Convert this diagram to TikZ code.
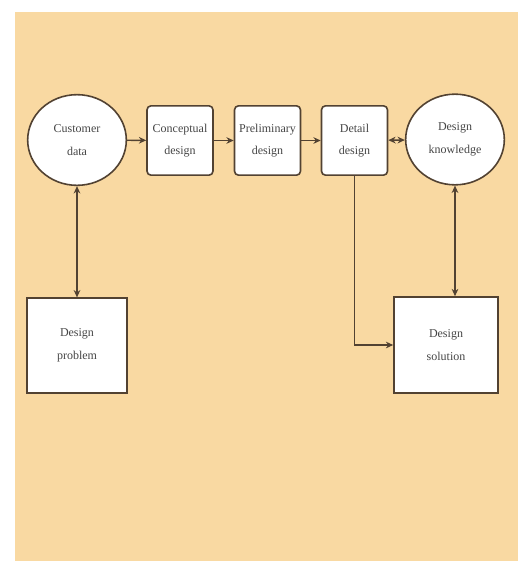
\documentclass[tikz,border=0pt]{standalone}
\usepackage{fontspec}
\setmainfont{Liberation Serif}
\usepackage{tikz}
\usetikzlibrary{positioning,calc,arrows.meta,shapes.geometric}
\definecolor{sand}{RGB}{249,217,162}
\definecolor{ink}{RGB}{82,66,50}
\definecolor{txt}{RGB}{70,70,70}
\tikzset{stagebox/.style={draw=ink, line width=1.2pt, fill=white, rounded corners=3pt, minimum width=49.5pt, minimum height=52pt, align=center, inner sep=1pt, text=txt, font=\fontsize{9}{17}\selectfont}}
\tikzset{pool/.style={stagebox, ellipse, rounded corners=0pt, minimum width=74pt, minimum height=68pt}}
\tikzset{endbox/.style={stagebox, rounded corners=0pt, minimum width=75pt, minimum height=71pt}}
\tikzset{arr/.style={draw=ink, line width=1.1pt, -{Stealth[length=5.5pt,width=5pt]}}}
\tikzset{darr/.style={arr, {Stealth[length=5.5pt,width=5pt]}-{Stealth[length=5.5pt,width=5pt]}}}

\begin{document}
\begin{tikzpicture}[x=0.75pt, y=-0.75pt]
	\useasboundingbox (0,0) rectangle (518,561);
	\fill[sand] (15,12) rectangle (518,561);
	% top row
	\node[pool](cust) at (77,140){Customer\\data};
	\node[stagebox](concept) at (180,140.5){Conceptual\\design};
	\node[stagebox](prelim) at (267.5,140.5){Preliminary\\design};
	\node[stagebox](detail) at (354.5,140.5){Detail\\design};
	\node[pool](know) at (455,139.5){Design\\knowledge};
	% bottom boxes
	\node[endbox](problem) at (77,345.5){Design\\problem};
	\node[endbox, minimum width=78pt, minimum height=72pt](solution) at (446,345){Design\\solution};
	% flow
	\draw[arr] (cust) -- (concept);
	\draw[arr] (concept) -- (prelim);
	\draw[arr] (prelim) -- (detail);
	\draw[darr] (detail) -- (know);
	\draw[darr] (cust.south) -- (problem.north);
	\draw[darr] (know.south) -- (know.south |- solution.north);
	\draw[arr] (detail.south) |- (solution.west);
\end{tikzpicture}
\end{document}
